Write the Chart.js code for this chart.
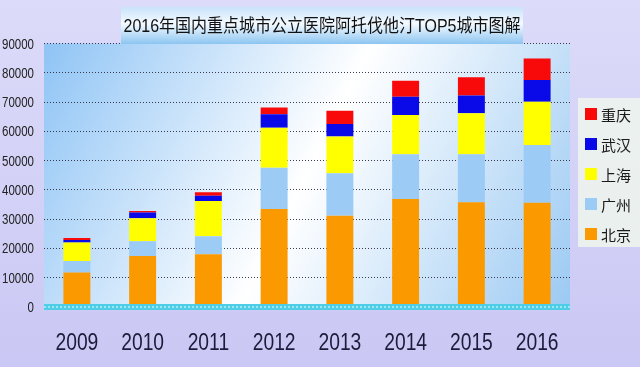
<!DOCTYPE html>
<html><head><meta charset="utf-8">
<script src="https://cdn.jsdelivr.net/npm/chart.js@4.4.1/dist/chart.umd.min.js"></script>
<style>html,body{margin:0;padding:0;background:#d6d4f7;}#wrap{width:640px;height:367px;position:relative;}</style>
</head><body><div id="wrap"><canvas id="c" width="640" height="367"></canvas></div>
<script>
const titleText = '2016年国内重点城市公立医院阿托伐他汀TOP5城市图解';
const years = ['2009','2010','2011','2012','2013','2014','2015','2016'];
const seriesNames = ['北京','广州','上海','武汉','重庆'];
const beijing   = [11800, 17400, 18000, 33500, 31200, 36900, 35800, 35600];
const guangzhou = [3900, 5100, 6200, 14100, 14500, 15300, 16400, 19700];
const shanghai  = [6300, 7800, 12000, 13600, 12500, 13400, 14000, 14800];
const wuhan     = [900, 2000, 1800, 4600, 4300, 6200, 6000, 7400];
const chongqing = [700, 500, 1200, 2300, 4500, 5500, 6300, 7400];
const yMax = 90000, yStep = 10000;
const colors = ['#fb9a00','#9ccbf5','#ffff00','#0a0ae8','#f80a0a'];
const NARROW = 0.82;

function narrowText(ctx, text, x, y, align, font, color, sx) {
  ctx.save();
  ctx.font = font; ctx.fillStyle = color;
  ctx.textAlign = align; ctx.textBaseline = 'alphabetic';
  ctx.translate(x, y); ctx.scale(sx, 1);
  ctx.fillText(text, 0, 0);
  ctx.restore();
}

const bgPlugin = {
  id:'bg',
  beforeDraw(chart){
    const {ctx, chartArea:a, width, height} = chart;
    ctx.save();
    let g = ctx.createLinearGradient(0,0,0,height);
    g.addColorStop(0,'#dcdbf9'); g.addColorStop(1,'#cac8f4');
    ctx.fillStyle = g; ctx.fillRect(0,0,width,height);
    g = ctx.createLinearGradient(a.left, a.top, a.right, a.bottom);
    g.addColorStop(0,'#8fc4f5'); g.addColorStop(0.5,'#ffffff'); g.addColorStop(1,'#9ccaf3');
    ctx.fillStyle = g; ctx.fillRect(a.left, a.top, a.right-a.left, a.bottom-a.top);
    ctx.restore();
  },
  afterDatasetsDraw(chart){
    const {ctx, chartArea:a} = chart;
    const y0 = chart.scales.y.getPixelForValue(0);
    ctx.save();
    ctx.fillStyle = '#4fcfe7';
    ctx.fillRect(a.left, y0-3, a.right-a.left, 6);
    ctx.strokeStyle = '#9fe6f4'; ctx.lineWidth = 2; ctx.setLineDash([2,2]);
    ctx.beginPath(); ctx.moveTo(a.left, y0); ctx.lineTo(a.right, y0); ctx.stroke();
    ctx.restore();
  },
  afterDraw(chart){
    const {ctx} = chart;
    // tick labels (narrow face simulated)
    const xs = chart.scales.x, ys = chart.scales.y;
    xs.ticks.forEach((t,i)=>{
      narrowText(ctx, xs.getLabelForValue(t.value), xs.getPixelForTick(i), 350, 'center',
        '23.5px "Liberation Sans", Arial, sans-serif', '#1c1c3a', NARROW);
    });
    ys.ticks.forEach((t,i)=>{
      narrowText(ctx, String(t.value), 34, ys.getPixelForTick(i)+5, 'right',
        '14px "Liberation Sans", Arial, sans-serif', '#222', NARROW);
    });
    ctx.save();
    // title box
    let g = ctx.createLinearGradient(0,7,0,44);
    g.addColorStop(0,'#c9e3fb'); g.addColorStop(0.45,'#f4faff'); g.addColorStop(1,'#8cc5f1');
    ctx.fillStyle = g; ctx.fillRect(121,7,402,37);
    const tf = '18.5px "Liberation Sans", "Noto Sans CJK SC", sans-serif';
    ctx.font = tf;
    const tw = ctx.measureText(titleText).width;
    narrowText(ctx, titleText, 322, 31.5, 'center', tf, '#111', 397/tw);
    // legend
    ctx.fillStyle = 'rgba(238,246,236,0.85)';
    ctx.fillRect(578,98,62,149);
    const ds = chart.data.datasets;
    ctx.font = '15px "Noto Sans CJK SC", sans-serif';
    ctx.textAlign = 'left'; ctx.textBaseline = 'middle';
    for (let i = 0; i < ds.length; i++) {
      const d = ds[ds.length-1-i];
      const yc = 114 + i*30;
      ctx.fillStyle = d.backgroundColor;
      ctx.fillRect(585, yc-6, 12, 12);
      ctx.fillStyle = '#1a1a1a';
      ctx.fillText(d.label, 601, yc+1);
    }
    ctx.restore();
  }
};

const seriesData = [beijing, guangzhou, shanghai, wuhan, chongqing];
new Chart(document.getElementById('c'), {
  type:'bar',
  data:{
    labels: years,
    datasets: seriesNames.map((n,i)=>({label:n, data:seriesData[i], backgroundColor:colors[i], borderWidth:0, barPercentage:0.41, categoryPercentage:1}))
  },
  options:{
    responsive:false, animation:false, devicePixelRatio:1,
    layout:{padding:{top:43.5, right:70, left:0, bottom:0}},
    plugins:{legend:{display:false}, title:{display:false}, tooltip:{enabled:false}},
    scales:{
      x:{stacked:true, grid:{display:false, drawTicks:false}, border:{display:false},
         ticks:{color:'rgba(0,0,0,0)', font:{size:20}, padding:20},
         afterFit(s){ s.height = 60; }},
      y:{stacked:true, min:0, max:yMax,
         ticks:{stepSize:yStep, color:'rgba(0,0,0,0)', font:{size:12}, padding:10},
         grid:{drawTicks:false, color:(c)=> c.tick && c.tick.value===0 ? 'rgba(0,0,0,0)' : '#3a3a4a', lineWidth:1},
         border:{display:false, dash:[1,2]},
         afterFit(s){ s.width = 44; }}
    }
  },
  plugins:[bgPlugin]
});
</script></body></html>
